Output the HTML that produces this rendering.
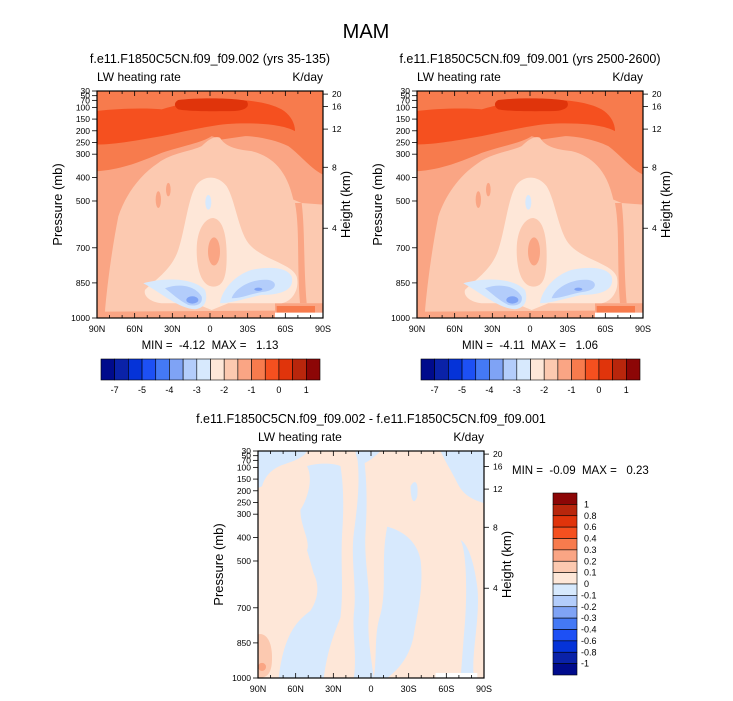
<!DOCTYPE html>
<html><head><meta charset="utf-8"><style>
body{margin:0;background:#fff;}
svg{display:block;font-family:"Liberation Sans",sans-serif;}
</style></head><body>
<svg id="root" width="733" height="701" viewBox="0 0 733 701">
<text x="366" y="38" font-size="20" text-anchor="middle">MAM</text>
<g id="p1"></g><g id="p2"></g><g id="p3"></g>
<g id="cb1"></g><g id="cb2"></g><g id="cb3"></g>
</svg>
<script>
const colors=["#000b8c","#0a22a8","#0533d8","#1d50f5","#4479f5","#7fa3f5","#b3cdfb","#d7e9fd","#fee7d8","#fcc9b0","#faa584","#f77b4d","#f5501f","#e0340b","#b8260c","#8c0606"];
const topCbLabels=["","-7","","-5","","-4","","-3","","-2","","-1","","0","","1",""];
const diffCbLabels=["1","0.8","0.6","0.4","0.3","0.2","0.1","0","-0.1","-0.2","-0.3","-0.4","-0.6","-0.8","-1"];
const presTicks=[30,50,70,100,150,200,250,300,400,500,700,850,1000];
const heightTicks=[20,16,12,8,4];
const latLabels=["90N","60N","30N","0","30S","60S","90S"];
const NS="http://www.w3.org/2000/svg";
function mk(tag,attrs,parent){const e=document.createElementNS(NS,tag);for(const k in attrs)e.setAttribute(k,attrs[k]);parent.appendChild(e);return e;}
const W=226,H=227;
function py(p){return (p-30)/970*H;}
function hToP(h){return 1013.25*Math.pow(1-2.25577e-5*h*1000,5.2559);}
const C=colors;
function topField(){return `
<rect x="6" y="5" width="678" height="679" fill="${C[10]}"/>
<path d="M6,5 H684 V255 C650,240 620,200 580,170 C540,150 480,140 450,140 L380,150 L350,140 C320,160 260,170 200,190 C140,215 80,240 6,245 Z" fill="${C[11]}"/>
<path d="M6,65 C60,58 150,55 200,60 C240,48 320,28 400,30 C460,32 520,38 560,60 C585,75 600,100 600,125 C580,115 560,110 520,105 C470,100 400,100 350,110 C300,118 250,130 200,140 C130,152 60,165 6,165 Z" fill="${C[12]}"/>
<path d="M250,32 C300,25 420,25 455,35 C465,50 455,62 420,65 C350,66 280,66 250,60 C235,50 238,38 250,32 Z" fill="${C[13]}"/>
<path d="M30,665 C35,600 50,480 70,380 C90,320 130,260 190,220 C230,190 290,185 320,170 C340,150 360,138 375,145 C390,170 420,180 470,185 C530,200 575,240 595,330 L620,340 L684,345 V640 H540 V662 Z" fill="${C[9]}"/>
<path d="M600,340 C615,420 605,520 615,640 L635,640 C625,520 630,420 620,340 Z" fill="${C[10]}"/>
<ellipse cx="190" cy="330" rx="8" ry="25" fill="${C[10]}"/><ellipse cx="220" cy="300" rx="7" ry="20" fill="${C[10]}"/>
<path d="M150,600 C180,570 230,540 250,480 C270,420 280,320 305,285 C330,255 370,258 395,290 C420,330 430,420 460,460 C500,510 590,520 605,560 C615,600 590,635 560,640 L400,640 L350,660 L300,640 L200,640 C160,635 145,615 150,600 Z" fill="${C[8]}"/>
<path d="M305,480 C305,420 330,385 355,385 C385,390 395,440 395,500 C395,560 385,590 355,590 C320,590 305,540 305,480 Z" fill="${C[9]}"/>
<ellipse cx="357" cy="485" rx="18" ry="42" fill="${C[10]}"/>
<ellipse cx="340" cy="338" rx="9" ry="22" fill="${C[7]}"/>
<path d="M145,580 C200,565 290,560 330,600 C340,630 330,655 300,658 C250,655 200,610 145,580 Z" fill="${C[7]}"/>
<path d="M375,640 C380,600 420,555 470,540 C520,530 575,530 590,560 C600,600 560,615 500,615 C450,625 410,640 375,640 Z" fill="${C[7]}"/>
<path d="M210,595 C250,580 300,585 320,620 C325,645 300,650 280,645 C250,630 230,610 210,595 Z" fill="${C[6]}"/>
<path d="M410,625 C420,595 470,565 520,570 C550,575 545,600 510,605 C470,610 440,625 410,625 Z" fill="${C[6]}"/>
<ellipse cx="292" cy="630" rx="18" ry="11" fill="${C[5]}"/><ellipse cx="490" cy="598" rx="12" ry="5" fill="${C[5]}"/>
<rect x="545" y="648" width="115" height="20" fill="${C[11]}"/>
<rect x="540" y="668" width="144" height="16" fill="#fff"/>`;}
function diffField(){return `
<rect x="173" y="155" width="677" height="675" fill="${C[8]}"/>
<path d="M173,155 H320 C310,175 280,185 250,195 C220,205 195,225 185,260 L173,265 Z" fill="${C[7]}"/>
<path d="M465,155 H540 C520,175 500,190 480,195 C470,180 465,165 465,155 Z" fill="${C[7]}"/>
<path d="M720,155 H850 V310 C820,300 790,290 770,250 C750,210 730,180 720,155 Z" fill="${C[7]}"/>
<path d="M320,200 C340,240 320,300 300,330 C300,380 330,420 320,450 L340,520 C360,560 350,600 330,630 C290,660 250,700 235,830 H370 C380,750 400,700 420,650 C430,560 420,500 425,400 C430,330 430,260 420,200 C400,190 350,190 320,200 Z" fill="${C[7]}"/>
<path d="M470,170 C480,250 470,320 460,400 C450,480 470,560 460,640 C455,700 470,760 460,830 H520 C510,760 500,700 505,640 C510,560 490,480 495,400 C500,320 500,250 490,170 Z" fill="${C[7]}"/>
<path d="M630,260 C640,240 655,240 650,290 C640,320 630,300 630,260 Z" fill="${C[7]}"/>
<path d="M560,380 C600,390 650,420 660,480 C670,560 650,640 640,700 C630,760 600,800 560,830 H520 C530,760 520,700 540,640 C560,560 540,480 560,380 Z" fill="${C[7]}"/>
<path d="M780,420 C800,460 800,600 790,700 L780,830 H820 C810,760 840,650 830,560 C820,480 800,430 780,420 Z" fill="${C[7]}"/>
<path d="M173,700 C190,695 215,710 215,770 C215,810 205,830 173,830 Z" fill="${C[9]}"/>
<ellipse cx="185" cy="797" rx="12" ry="12" fill="${C[10]}"/>
<rect x="705" y="815" width="125" height="15" fill="#fff"/>`;}
function panel(g,x0,y0,title,minmax,field,vb){
  
  
  mk('text',{x:x0+W/2,y:y0-28,'font-size':12.5,'text-anchor':'middle',},g).textContent=title;
  mk('text',{x:x0,y:y0-10,'font-size':12,},g).textContent="LW heating rate";
  mk('text',{x:x0+W,y:y0-10,'font-size':12,'text-anchor':'end',},g).textContent="K/day";
  const s=mk('svg',{x:x0,y:y0,width:W,height:H,viewBox:vb,preserveAspectRatio:'none',},g);
  s.innerHTML=field;
  mk('rect',{x:x0,y:y0,width:W,height:H,fill:'none',stroke:'#000','stroke-width':1.2,},g);
  for(let i=0;i<=18;i++){const x=x0+i*W/18;const L=(i%3==0)?5:3;
    mk('line',{x1:x,x2:x,y1:y0,y2:y0+L,stroke:'#000','stroke-width':0.8},g);
    mk('line',{x1:x,x2:x,y1:y0+H,y2:y0+H-L,stroke:'#000','stroke-width':0.8},g);}
  latLabels.forEach((l,i)=>{const t=mk('text',{x:x0+i*W/6,y:y0+H+14,'font-size':9,'text-anchor':'middle'},g);
    t.textContent=l;});
  presTicks.forEach(p=>{const y=y0+py(p);
    mk('line',{x1:x0-5,x2:x0,y1:y,y2:y,stroke:'#000','stroke-width':0.8},g);
    const t=mk('text',{x:x0-7,y:y+3,'font-size':8.5,'text-anchor':'end'},g);
    t.textContent=p;});
  heightTicks.forEach(h=>{const y=y0+py(hToP(h));
    mk('line',{x1:x0+W,x2:x0+W+5,y1:y,y2:y,stroke:'#000','stroke-width':0.8},g);
    const t=mk('text',{x:x0+W+9,y:y+3,'font-size':8.5},g);
    t.textContent=h;});
  const yc=y0+H/2;
  mk('text',{x:x0-35,y:yc,'font-size':13,'text-anchor':'middle',transform:`rotate(-90 ${x0-35} ${yc})`,},g).textContent="Pressure (mb)";
  mk('text',{x:x0+W+27,y:yc,'font-size':13,'text-anchor':'middle',transform:`rotate(-90 ${x0+W+27} ${yc})`,},g).textContent="Height (km)";
  if(minmax){mk('text',{x:minmax[0],y:minmax[1],'font-size':11.5,'text-anchor':minmax[3]||'middle',style:'white-space:pre',},g).textContent=minmax[2];}
}
function hbar(g,x0,y0,w,h){
  
  const bw=w/colors.length;
  colors.forEach((c,i)=>{const r=mk('rect',{x:x0+i*bw,y:y0,width:bw,height:h,fill:c,stroke:'#000','stroke-width':0.6},g);
    });
  topCbLabels.forEach((l,i)=>{if(!l)return;const t=mk('text',{x:x0+i*bw,y:y0+h+13,'font-size':9,'text-anchor':'middle'},g);
    t.textContent=l;});
}
function vbar(g,x0,y0,w,h){
  
  const n=colors.length,bh=h/n;
  for(let i=0;i<n;i++){const r=mk('rect',{x:x0,y:y0+i*bh,width:w,height:bh,fill:colors[n-1-i],stroke:'#000','stroke-width':0.6},g);
    }
  diffCbLabels.forEach((l,i)=>{const t=mk('text',{x:x0+w+(l.startsWith('-')?4:7),y:y0+(i+1)*bh+3,'font-size':9},g);
    t.textContent=l;});
}
panel(document.getElementById('p1'),97,91,"f.e11.F1850C5CN.f09_f09.002 (yrs 35-135)",[210,349,"MIN =  -4.12  MAX =   1.13"],topField(),"6 5 678 679");
panel(document.getElementById('p2'),417,91,"f.e11.F1850C5CN.f09_f09.001 (yrs 2500-2600)",[530,349,"MIN =  -4.11  MAX =   1.06"],topField(),"6 5 678 679");
panel(document.getElementById('p3'),258,451,"f.e11.F1850C5CN.f09_f09.002 - f.e11.F1850C5CN.f09_f09.001",[512,474,"MIN =  -0.09  MAX =   0.23","start"],diffField(),"173 155 677 675");
hbar(document.getElementById('cb1'),101,359,219,21);
hbar(document.getElementById('cb2'),421,359,219,21);
vbar(document.getElementById('cb3'),553,493,24,182);
</script>
</body></html>
